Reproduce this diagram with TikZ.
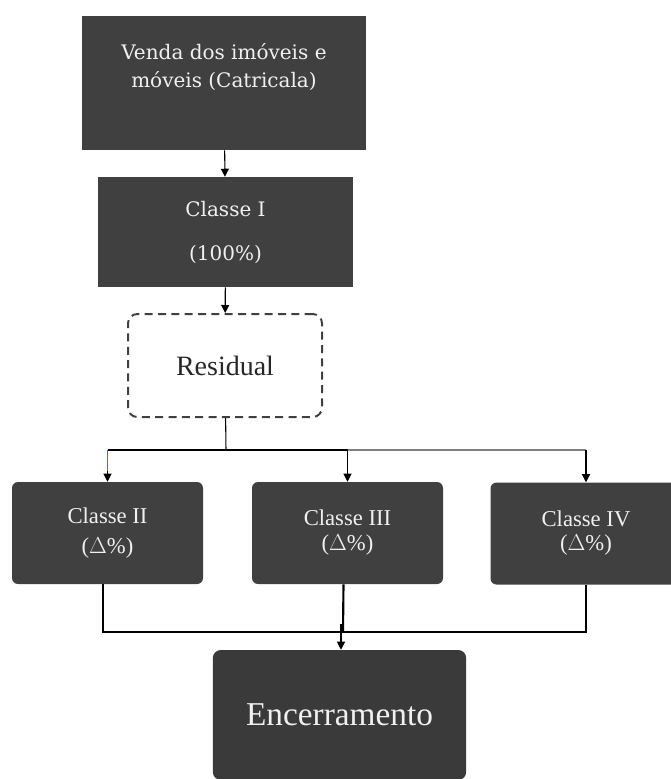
\documentclass[tikz,border=0pt]{standalone}
\usepackage{fontspec}
\setmainfont{DejaVu Serif}
\newfontfamily\boxfont{Liberation Serif}
\usepackage{xcolor}
\usetikzlibrary{shapes,arrows,positioning,calc,arrows.meta}
\definecolor{fcdark}{HTML}{404040}
\definecolor{fcdarker}{HTML}{3A3A3A}
\definecolor{fcgray}{HTML}{808080}
\definecolor{fcblue}{HTML}{3A6FD8}
\definecolor{fctext}{HTML}{F0F0F0}
\tikzset{
  fc block/.style={rectangle, fill=fcdark, text=fctext, align=center, inner sep=0pt, font=\fontsize{15}{21}\selectfont},
  fc class/.style={fc block, rounded corners=4.5pt, minimum width=143.25pt, minimum height=76.5pt, font=\boxfont\fontsize{17}{22.5}\selectfont},
  fc residual/.style={rectangle, rounded corners=7pt, draw=fcdark, line width=1.5pt, dash pattern=on 6pt off 4pt, text=black!85, align=center, inner sep=0pt, font=\boxfont\fontsize{21}{22}\selectfont},
  fc arrow/.style={-{Triangle[length=6pt,width=6pt]}, line width=0.8pt},
  fc line/.style={line width=0.8pt},
  fc join/.style={line width=1.6pt}
}

\begin{document}
\begin{tikzpicture}[x=0.75pt, y=-0.75pt]
    \useasboundingbox (0,0) rectangle (671,779);

    % Sale
    \node [fc block, minimum width=213pt, minimum height=100.5pt, text depth=26pt] (Venda) at (224,83) {Venda dos imóveis e\\móveis (Catricala)};
    \node [fc block, minimum width=191.25pt, minimum height=82.5pt] (ClasseI) at (225.5,232) {Classe I\\[12pt](100\%)};

    % Residual
    \node [fc residual, minimum width=145.5pt, minimum height=77.25pt] (Residual) at (225,365.5) {Residual};

    % Classes
    \node [fc class] (ClasseII) at (107.5,533) {Classe II\\(\(\Delta\)\%)};
    \node [fc class, font=\boxfont\fontsize{17}{18.75}\selectfont] (ClasseIII) at (347.5,533) {Classe III\\(\(\Delta\)\%)};
    \node [fc class, font=\boxfont\fontsize{17}{18}\selectfont] (ClasseIV) at (586,533.5) {Classe IV\\(\(\Delta\)\%)};

    % End
    \node [fc block, fill=fcdarker, rounded corners=6pt, minimum width=190pt, minimum height=97.5pt, font=\boxfont\fontsize{25}{28}\selectfont] (Encerramento) at (339.5,715) {Encerramento};

    % Connections
    \draw [fc arrow] (Venda) -- (ClasseI);
    \draw [fc arrow] (ClasseI) -- (Residual);
    \coordinate (split) at (226,450);
    \draw [fc line] (Residual) -- (split);
    \draw [fc line] (split) -- (split -| ClasseII);
    \draw [fc line] (split) -- (split -| ClasseIII);
    \draw [fc line, fcgray] (split -| ClasseIII) -- (split -| ClasseIV);
    \draw [fc line, fcblue] (split -| ClasseII) -- ($(split -| ClasseII)+(0,22)$);
    \draw [fc arrow] ($(split -| ClasseII)+(0,21)$) -- (ClasseII);
    \draw [fc arrow] (split -| ClasseIII) -- (ClasseIII);
    \draw [fc arrow] (split -| ClasseIV) -- (ClasseIV);

    % Join
    \coordinate (join) at (343,632);
    \draw [fc join] ($(ClasseII.south)+(-4.5,0)$) |- (join);
    \draw [fc join] ($(ClasseIII.south)+(-4,0)$) -- (join);
    \draw [fc join] (ClasseIV.south) |- (join);
    \draw [fc arrow] ($(join)+(-2,-8)$) -- ($(join |- Encerramento.north)+(-2,0)$);
\end{tikzpicture}
\end{document}
